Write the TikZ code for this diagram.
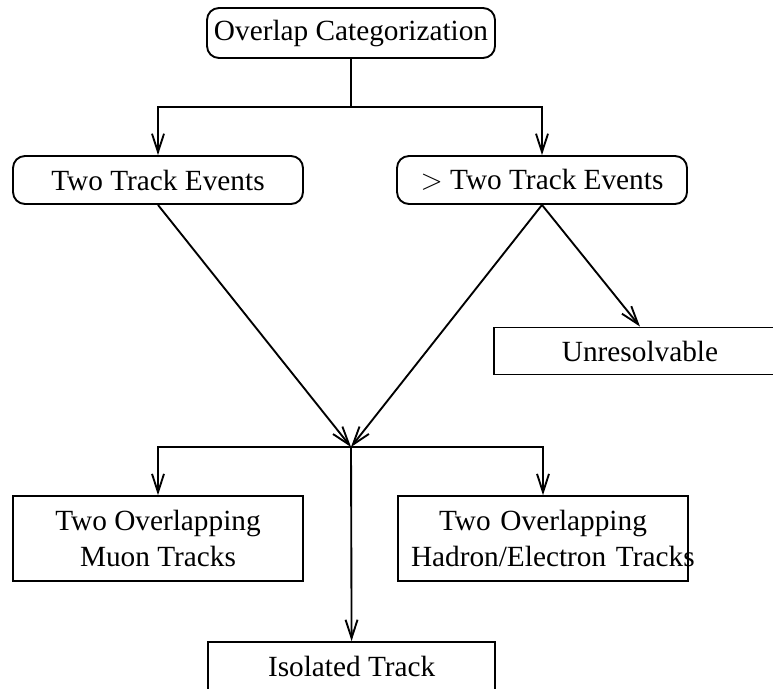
\documentclass[tikz,border=0pt]{standalone}
\usepackage{fontspec}
\setmainfont{Liberation Serif}
\usetikzlibrary{arrows.meta}

\begin{document}
\begin{tikzpicture}[
  box/.style={rectangle, draw, line width=1.6pt, minimum width=8.7cm,
    minimum height=1.44cm, align=center, inner sep=0pt,
    font=\fontsize{25}{30.6}\selectfont},
  rbox/.style={box, rounded corners=0.36cm},
  arr/.style={-{Straight Barb[length=0.55cm,width=0.36cm]}, line width=1.6pt}
]
  \useasboundingbox (0,0) rectangle (23.19,-20.64);

  \node[rbox, minimum width=8.64cm, minimum height=1.5cm] (cat) at (10.53,-0.99) {Overlap Categorization};
  \node[rbox] (two) at (4.74,-5.4) {Two Track Events};
  \node[rbox] (more) at (16.26,-5.4) {$>$ Two Track Events};
  \node[box, minimum width=8.76cm, minimum height=1.41cm] (unres) at (19.2,-10.53) {Unresolvable};
  \node[box, minimum height=2.55cm] (muon) at (4.74,-16.16) {Two Overlapping\\Muon Tracks};
  \node[box, minimum height=2.55cm, text width=7.92cm] (hadron) at (16.29,-16.16) {\mbox{Two Overlapping}\\\mbox{Hadron/Electron Tracks}};
  \node[box, minimum width=8.61cm] (iso) at (10.55,-19.98) {Isolated Track};

  \coordinate (split) at (10.53,-3.21);
  \coordinate (merge) at (10.53,-13.41);

  % first split
  \draw[line width=1.6pt] (cat) -- (split);
  \draw[arr] (split) -| (two);
  \draw[arr] (split) -| (more);

  % both kinds meet again
  \draw[arr] (two.south) -- (merge);
  \draw[arr] (more.south) -- (merge);
  \draw[arr] (more.south) -- (unres.north);

  % second split
  \draw[arr] (merge) -| (muon);
  \draw[arr] (merge) -| (hadron);
  \draw[arr] (merge) -- (iso);
\end{tikzpicture}
\end{document}
